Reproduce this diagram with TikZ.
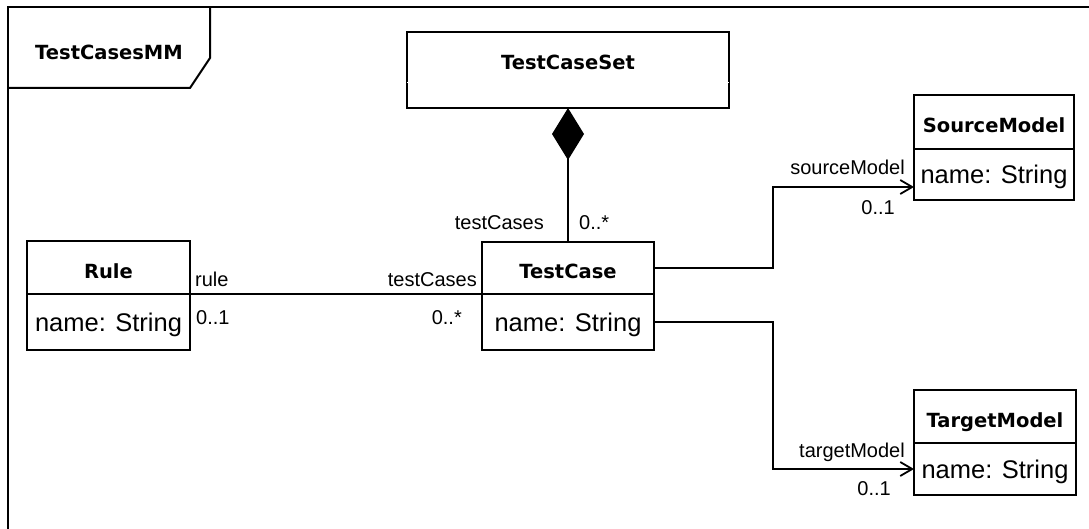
\documentclass[tikz,border=0pt]{standalone}
\usepackage{fontspec}
\setmainfont{Liberation Sans}
\newfontfamily\hdfont{DejaVu Sans}
\usetikzlibrary{arrows.meta}

\tikzset{
  ln/.style={line width=2pt},
  clsname/.style={draw, ln, inner sep=0pt, outer sep=0pt, font=\hdfont\bfseries\fontsize{19.5}{23}\selectfont,
    text height=21.9pt, text depth=0pt},
  clsattr/.style={draw, ln, inner sep=0pt, outer sep=0pt, font=\fontsize{25.5}{30}\selectfont,
    text height=18.3pt, text depth=0pt},
  role/.style={inner sep=0pt, font=\fontsize{20}{24}\selectfont},
  assoc/.style={ln, -{Straight Barb[length=12pt,width=14pt,line width=1.8pt]}},
  compo/.style={ln, {Diamond[length=52pt,width=32pt,line width=0pt,fill=black]}-},
}

\begin{document}
\begin{tikzpicture}[x=1pt,y=-1pt]
\useasboundingbox (0,0) rectangle (1089,529);
\fill[white] (0,0) rectangle (1089,529);
\begin{scope}
\clip (0,0) rectangle (1089,529);
% package frame with its name tab
\draw[ln] (8,540) -- (8,7) -- (1100,7);
\draw[ln] (8,88) -- (190,88) -- (210,58) -- (210,7);
\end{scope}
\node[inner sep=0pt, anchor=base, font=\hdfont\bfseries\fontsize{19.5}{23}\selectfont] (pkg) at (109,60) {TestCasesMM};

% TestCaseSet (no attributes)
\node[draw, ln, minimum width=322pt, minimum height=76pt, inner sep=0pt, outer sep=0pt] (tcs) at (568,70) {};
\draw[white, line width=1pt] (tcs.west |- 0,83) -- (tcs.east |- 0,83);
\node[inner sep=0pt, anchor=base, font=\hdfont\bfseries\fontsize{19.5}{23}\selectfont] (tcsName) at (568,69.5) {TestCaseSet};

% Rule
\node[clsname, minimum width=163pt, minimum height=53pt] (ruleName) at (108.5,267.5) {Rule};
\node[clsattr, minimum width=163pt, minimum height=56pt, anchor=north] (ruleAttr) at (ruleName.south) {name: String};

% TestCase
\node[clsname, minimum width=172pt, minimum height=52pt] (tcName) at (568,268) {TestCase};
\node[clsattr, minimum width=172pt, minimum height=56pt, anchor=north] (tcAttr) at (tcName.south) {name: String};

% SourceModel
\node[clsname, minimum width=160pt, minimum height=54pt] (smName) at (994,122) {SourceModel};
\node[clsattr, minimum width=160pt, minimum height=51pt, anchor=north] (smAttr) at (smName.south) {name: String};

% TargetModel
\node[clsname, minimum width=162pt, minimum height=53pt] (tmName) at (995,416.5) {TargetModel};
\node[clsattr, minimum width=162pt, minimum height=52pt, anchor=north] (tmAttr) at (tmName.south) {name: String};

% connectors
\coordinate (bendx) at (773,0);
\draw[compo] (tcs.south) -- (tcName.north);
\draw[ln] (ruleName.south east) -- (ruleName.south east -| tcName.west);
\draw[assoc] (tcName.east) -- (tcName.east -| bendx) |- ([yshift=-12.5pt]smAttr.west);
\draw[assoc] (tcAttr.east) -- (tcAttr.east -| bendx) |- (tmAttr.west);

% role names and multiplicities
\node[role, anchor=base east] (lTcs) at (544,230) {testCases};
\node[role, anchor=base west] (mTcs) at (579,230) {0..*};
\node[role, anchor=base west] (lRule) at (195,287) {rule};
\node[role, anchor=base west] (mRule) at (196,324) {0..1};
\node[role, anchor=base east] (lRuleTc) at (477,287) {testCases};
\node[role, anchor=base east] (mRuleTc) at (462,324) {0..*};
\node[role, anchor=base east] (lSm) at (905,175) {sourceModel};
\node[role, anchor=base east] (mSm) at (895,215) {0..1};
\node[role, anchor=base east] (lTm) at (905,457) {targetModel};
\node[role, anchor=base east] (mTm) at (891,495) {0..1};
\end{tikzpicture}
\end{document}
